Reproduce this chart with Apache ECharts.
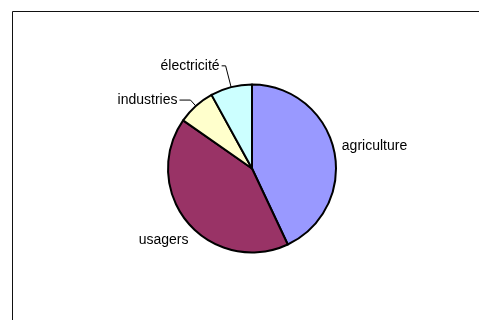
<!DOCTYPE html>
<html>
<head>
<meta charset="utf-8">
<script src="https://cdn.jsdelivr.net/npm/echarts@6/dist/echarts.min.js"></script>
<style>
html,body{margin:0;padding:0;background:#fff;}
#c{width:479px;height:320px;}
</style>
</head>
<body>
<div id="c"></div>
<script>
// Data
var categories = ['agriculture', 'usagers', 'industries', 'électricité'];
var values = [43.0, 41.7, 7.3, 8.0];

// Styles (not data)
var sliceColors = ['#9999FF', '#993366', '#FFFFCC', '#CCFFFF'];
var lineCfg = [
  { show: false, length: 6, length2: 0 },
  { show: false, length: 3, length2: 0 },
  { show: true, length: 8, length2: 11 },
  { show: true, length: 22, length2: 4 }
];
var labelShift = [
  { dx: 0, dy: -2.6 },
  { dx: 5, dy: 16 },
  null,
  null
];

var chart = echarts.init(document.getElementById('c'), null, { renderer: 'canvas' });

var seriesData = categories.map(function (name, i) {
  return {
    name: name,
    value: values[i],
    itemStyle: { color: sliceColors[i] },
    labelLine: {
      show: lineCfg[i].show,
      length: lineCfg[i].length,
      length2: lineCfg[i].length2
    }
  };
});

chart.setOption({
  animation: false,
  backgroundColor: '#ffffff',
  graphic: [{
    type: 'rect',
    shape: { x: 12.5, y: 11.5, width: 500, height: 400 },
    style: { fill: 'none', stroke: '#111', lineWidth: 1 },
    silent: true
  }],
  series: [{
    type: 'pie',
    center: [252, 168.5],
    radius: 84,
    startAngle: 90,
    clockwise: true,
    avoidLabelOverlap: false,
    silent: true,
    emphasis: { disabled: true },
    itemStyle: { borderColor: '#000', borderWidth: 2 },
    label: {
      show: true,
      position: 'outside',
      formatter: '{b}',
      color: '#000',
      fontFamily: 'Liberation Sans, Arial, sans-serif',
      fontSize: 14,
      distanceToLabelLine: 2
    },
    labelLine: {
      lineStyle: { color: '#000', width: 1 },
      smooth: false
    },
    labelLayout: function (params) {
      var s = labelShift[params.dataIndex];
      return s ? { dx: s.dx, dy: s.dy } : {};
    },
    data: seriesData
  }]
});
</script>
</body>
</html>
